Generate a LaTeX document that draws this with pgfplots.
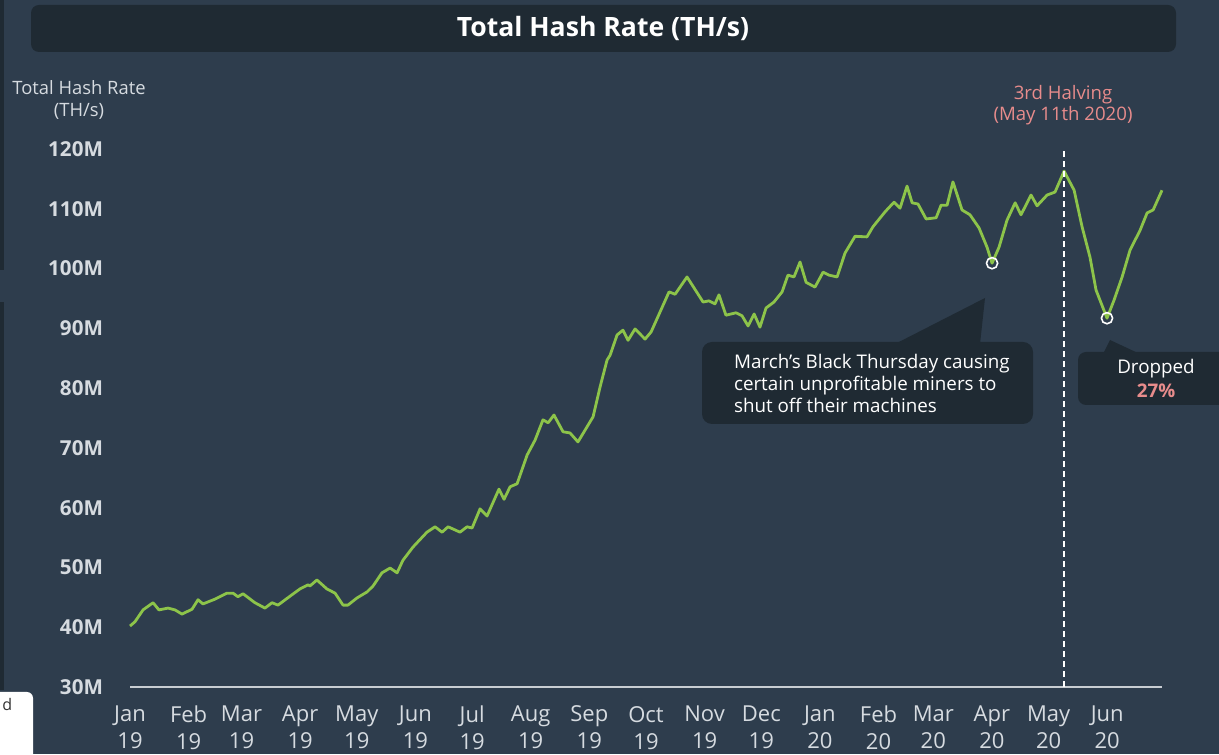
\documentclass[border=0pt]{standalone}
\usepackage{pgfplots}
\pgfplotsset{compat=1.18}
\usepackage{fontspec}
\setmainfont{Open Sans}
\definecolor{bg}{RGB}{46,61,77}
\definecolor{darkbox}{RGB}{31,42,51}
\definecolor{linegreen}{RGB}{141,196,74}
\definecolor{ticktext}{RGB}{214,219,224}
\definecolor{pinktext}{RGB}{232,140,140}
\definecolor{axisgray}{RGB}{200,205,210}
\begin{document}
\begin{tikzpicture}[x=1pt,y=1pt]
\useasboundingbox (0,0) rectangle (609.5,377);
\clip (0,0) rectangle (609.5,377);
\fill[bg] (0,0) rectangle (609.5,377);
% left artifacts
\fill[darkbox] (0,377) rectangle (2,242);
\fill[darkbox] (0,226) rectangle (2,32);
% title bar
\fill[darkbox, rounded corners=4pt] (15.5,374.5) rectangle (588,351);
\node[text=white, font=\fontsize{13.3}{16}\selectfont\bfseries] at (301.5,362.5) {Total Hash Rate (TH/s)};
% y label
\node[text=ticktext, align=center, font=\fontsize{9.2}{11}\selectfont] at (39.5,327) {Total Hash Rate\\(TH/s)};
\begin{axis}[
  at={(65pt,33.5pt)}, anchor=south west,
  scale only axis, width=516pt, height=269pt,
  xmin=0, xmax=546, ymin=30, ymax=120,
  clip=false,
  separate axis lines,
  axis x line*=bottom, axis y line*=left,
  x axis line style={draw=axisgray, line width=0.6pt, -},
  y axis line style={draw=none},
  major tick length=0pt,
  xtick={0,31,59,90,120,151,181,212,243,273,304,334,365,396,425,456,486,517},
  xticklabels={{Jan\\19},{Feb\\19},{Mar\\19},{Apr\\19},{May\\19},{Jun\\19},{Jul\\19},{Aug\\19},{Sep\\19},{Oct\\19},{Nov\\19},{Dec\\19},{Jan\\20},{Feb\\20},{Mar\\20},{Apr\\20},{May\\20},{Jun\\20}},
  xticklabel style={align=center, text=ticktext, font=\fontsize{11}{13.5}\selectfont, yshift=-6pt},
  ytick={30,40,50,60,70,80,90,100,110,120},
  yticklabels={30M,40M,50M,60M,70M,80M,90M,100M,110M,120M},
  yticklabel style={text=ticktext, font=\fontsize{10.3}{12}\selectfont\bfseries, anchor=east, xshift=-10pt},
  /pgf/number format/assume math mode=true,
]
\addplot[linegreen, line width=1.4pt, line join=round] coordinates {
(0,40.2) (2.6,40.9) (6.9,42.9) (12.2,44.1) (15.3,42.9) (20.1,43.2) (23.8,42.9) (27.5,42.2)
(32.8,43.0) (36.0,44.6) (38.6,43.9) (45.0,44.7) (51.3,45.7) (54.5,45.7) (57.1,45.1) (59.8,45.6)
(66.1,44.1) (71.4,43.2) (75.1,44.1) (78.3,43.7) (84.7,45.2) (89.9,46.4) (94.2,47.1) (95.2,46.9)
(98.9,47.9) (104.2,46.4) (108.5,45.7) (112.7,43.7) (115.3,43.7) (120.1,44.9) (125.4,45.9) (128.6,46.9)
(133.3,49.1) (137.6,49.9) (141.3,49.1) (144.4,51.2) (149.7,53.4) (157.1,55.9) (161.4,56.8) (165.1,55.9)
(168.3,56.8) (174.6,55.9) (178.3,56.8) (181.0,56.6) (185.2,59.8) (188.9,58.6) (195.2,63.1) (197.9,61.4)
(201.1,63.5) (204.8,64.0) (210.1,68.8) (214.3,71.3) (218.5,74.7) (221.2,74.2) (224.3,75.5) (229.1,72.7)
(232.8,72.5) (237.0,71.0) (245.0,75.2) (248.7,80.2) (252.4,84.7) (254.0,85.5) (257.7,88.9) (260.8,89.7)
(263.5,88.0) (267.2,89.9) (272.5,88.2) (275.7,89.4) (285.2,96.1) (288.4,95.7) (294.7,98.6) (303.2,94.4)
(306.3,94.6) (309.5,94.1) (311.6,95.6) (315.3,92.2) (320.6,92.6) (323.8,92.1) (327.0,90.4) (330.2,92.4)
(333.3,90.2) (336.5,93.4) (340.7,94.4) (345.0,96.1) (348.1,98.9) (351.3,98.6) (354.5,101.1) (357.7,97.7)
(362.4,96.9) (366.7,99.4) (369.8,98.9) (374.1,98.6) (378.3,102.6) (383.6,105.4) (389.9,105.3) (393.1,107.0)
(399.5,109.5) (404.2,111.1) (407.4,110.1) (411.1,113.8) (413.8,111.0) (416.9,110.8) (421.2,108.3) (426.5,108.5)
(429.1,110.6) (432.3,110.6) (435.4,114.5) (440.2,109.8) (444.4,109.0) (449.2,106.8) (453.4,103.6) (456.1,100.9)
(459.8,103.6) (464.0,108.1) (468.3,111.0) (471.4,109.0) (476.7,112.3) (479.9,110.5) (485.2,112.3) (489.4,112.8)
(494.2,116.3) (499.5,113.1) (503.7,107.0) (507.9,101.9) (511.1,96.4) (516.9,91.7) (520.6,94.7) (524.9,98.6)
(529.1,103.1) (534.4,106.4) (538.1,109.3) (541.3,109.8) (546.0,113.1)
};
\addplot[white, line width=0.9pt, dash pattern=on 3pt off 2pt] coordinates {(494,30) (494,120)};
\addplot[only marks, mark=o, mark size=2.8pt, mark options={draw=white, line width=0.8pt}] coordinates {(456.1,100.9) (516.9,91.7)};
\end{axis}
% halving label
\node[text=pinktext, align=center, font=\fontsize{9.3}{10.5}\selectfont] at (531.5,324.25) {3rd Halving\\(May 11th 2020)};
% callout 1
\fill[darkbox] (447.5,205) -- (492.5,228) -- (490,205) -- cycle;
\fill[darkbox, rounded corners=5pt] (351,206) rectangle (516.5,165);
\node[text=white, anchor=west, align=left, font=\fontsize{9.4}{11}\selectfont] at (363.5,185.5) {March’s Black Thursday causing\\certain unprofitable miners to\\shut off their machines};
% callout 2
\fill[darkbox] (551.5,200) -- (555,207) -- (570,200) -- cycle;
\fill[darkbox, rounded corners=4pt] (539,201) rectangle (625,174.5);
\node[text=white, font=\fontsize{9.4}{10}\selectfont] at (578,192.5) {Dropped};
\node[text=pinktext, font=\fontsize{9.4}{10}\selectfont\bfseries] at (578,181.5) {27\%};
% bottom-left white box
\fill[white, rounded corners=3pt] (-5,31) rectangle (16.5,-5);
\node[text=black!80, anchor=west, font=\fontsize{8}{10}\selectfont, inner sep=0pt] at (1,24.5) {d};
\end{tikzpicture}
\end{document}
